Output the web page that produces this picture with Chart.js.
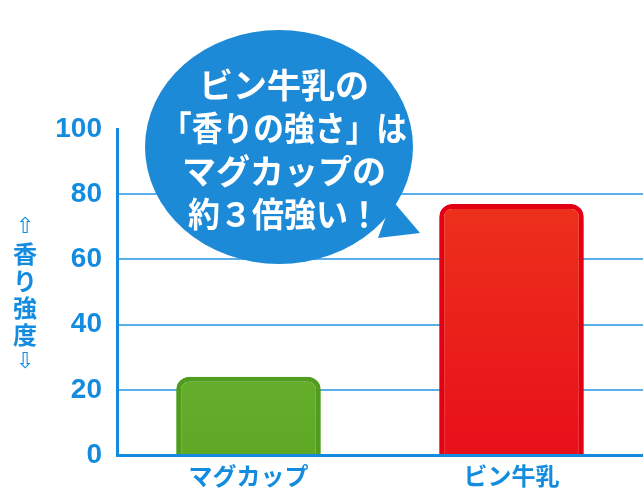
<!DOCTYPE html>
<html lang="ja">
<head>
<meta charset="utf-8">
<script src="https://cdn.jsdelivr.net/npm/chart.js@4"></script>
<style>
  html, body { margin: 0; padding: 0; background: #fff; }
  #wrap { width: 643px; height: 491px; }
</style>
</head>
<body>
<div id="wrap"><canvas id="chart" width="643" height="491"></canvas></div>
<script>
'use strict';

// --- data ---
const categories = ['マグカップ', 'ビン牛乳'];
const scentValues = [24, 77];
const yTicks = [0, 20, 40, 60, 80, 100];
const axisTitle = ['⇧', '香', 'り', '強', '度', '⇩'];
const bubbleLines = ['ビン牛乳の', '「香りの強さ」は', 'マグカップの', '約３倍強い！'];

const BLUE = '#138ce0';
const JP = '"Noto Sans CJK JP", sans-serif';

// vertical gradient per bar, lighter at the top
function barFill(ctx) {
  const { chart, dataIndex } = ctx;
  const area = chart.chartArea;
  if (!area) return null;
  const g = chart.ctx.createLinearGradient(0, area.top, 0, area.bottom);
  if (dataIndex === 0) {
    g.addColorStop(0, '#7dc03a');
    g.addColorStop(1, '#5ea826');
  } else {
    g.addColorStop(0, '#ee3a1c');
    g.addColorStop(1, '#e8101a');
  }
  return g;
}

/* --- stacked y-axis title --- */
const yTitlePlugin = {
  id: 'yTitle',
  afterDraw(chart) {
    const c = chart.ctx;
    c.save();
    c.fillStyle = BLUE;
    c.textAlign = 'center';
    c.textBaseline = 'middle';
    axisTitle.forEach((ch, i) => {
      const isArrow = i === 0 || i === axisTitle.length - 1;
      c.font = isArrow ? '22px "DejaVu Sans", sans-serif' : 'bold 24px ' + JP;
      c.fillText(ch, 25, 227 + i * 27);
    });
    c.restore();
  }
};

/* --- speech bubble --- */
const bubbleWidths = [172, 246, 204, 192];
const bubblePlugin = {
  id: 'bubble',
  afterDraw(chart) {
    const c = chart.ctx;
    c.save();
    c.fillStyle = '#1c8ad6';
    c.beginPath();
    c.ellipse(279, 147, 134, 117, 0, 0, Math.PI * 2);
    c.fill();
    c.beginPath();
    c.moveTo(392, 200);
    c.lineTo(420, 233);
    c.lineTo(378, 238);
    c.closePath();
    c.fill();

    c.fillStyle = '#fff';
    c.textAlign = 'center';
    c.textBaseline = 'middle';
    c.font = 'bold 34px ' + JP;
    bubbleLines.forEach((line, i) => c.fillText(line, 284, 85 + i * 43, bubbleWidths[i]));
    c.restore();
  }
};

new Chart(document.getElementById('chart'), {
  type: 'bar',
  data: {
    labels: categories,
    datasets: [{
      data: scentValues,
      backgroundColor: barFill,
      borderColor: ['#4f9c1f', '#e40013'],
      borderWidth: 5,
      borderSkipped: 'bottom',
      borderRadius: { topLeft: 13, topRight: 13 },
      barPercentage: 0.55,
      categoryPercentage: 1
    }]
  },
  options: {
    responsive: false,
    animation: false,
    layout: { padding: { top: 129, right: 0, left: 0, bottom: 0 } },
    plugins: { legend: { display: false }, tooltip: { enabled: false } },
    scales: {
      x: {
        grid: { display: false, drawTicks: false },
        border: { display: true, color: BLUE, width: 3 },
        ticks: { color: BLUE, font: { family: JP, size: 24, weight: 'bold' }, padding: 6 },
        afterFit: s => { s.height = 36; }
      },
      y: {
        min: 0,
        max: 100,
        afterBuildTicks: s => { s.ticks = yTicks.map(v => ({ value: v })); },
        grid: {
          drawTicks: false,
          lineWidth: 2,
          color: ctx => (ctx.tick.value === 0 || ctx.tick.value === 100) ? 'rgba(0,0,0,0)' : '#5aaeea'
        },
        border: { display: true, color: BLUE, width: 3 },
        ticks: {
          color: BLUE,
          padding: 15,
          font: { family: '"Liberation Sans", Arial, sans-serif', size: 28, weight: 'bold' }
        },
        afterFit: s => { s.width = 117; }
      }
    }
  },
  plugins: [yTitlePlugin, bubblePlugin]
});
</script>
</body>
</html>
